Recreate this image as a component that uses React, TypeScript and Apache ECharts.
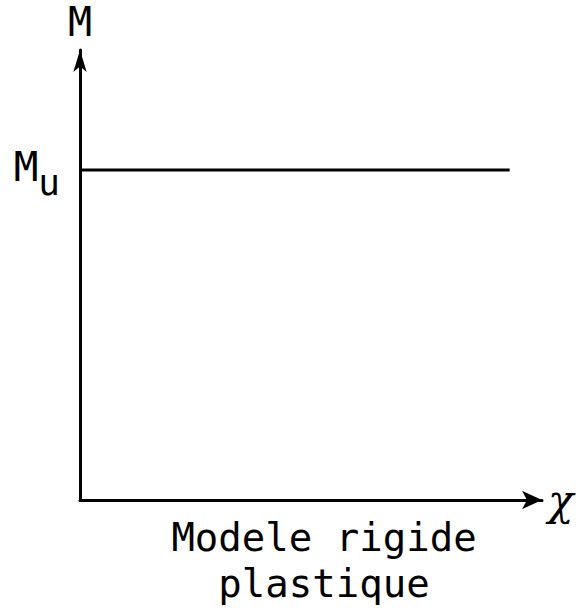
import React, { useEffect, useRef } from "react";
import * as echarts from "echarts";

const xRange = [0, 10];
const yRange = [0, 15];
const muValue = 11;
const plateauX = [0, 9.3];
const axisNames = { x: "χ", y: "M" };
const muLabel = ["M", "u"];
const captionLines = ["Modele rigide", "plastique"];

export default function App() {
  const ref = useRef<HTMLDivElement>(null);
  useEffect(() => {
    const chart = echarts.init(ref.current!, null, { renderer: "svg" });
    const font = "'DejaVu Sans Mono', monospace";
    chart.setOption({
      animation: false,
      backgroundColor: "#ffffff",
      grid: { left: 80, right: 43, top: 50, bottom: 113, containLabel: false },
      xAxis: {
        type: "value",
        min: xRange[0],
        max: xRange[1],
        name: axisNames.x,
        nameLocation: "end",
        nameGap: 6,
        nameTextStyle: { fontFamily: "'DejaVu Serif', serif", fontStyle: "italic", fontSize: 42, color: "#000", verticalAlign: "middle", padding: [0, 0, 10, 0] },
        axisLine: { show: true, symbol: ["none", "arrow"], symbolSize: [14, 20], lineStyle: { color: "#000", width: 3 } },
        axisTick: { show: false },
        axisLabel: { show: false },
        splitLine: { show: false },
      },
      yAxis: {
        type: "value",
        min: yRange[0],
        max: yRange[1],
        name: axisNames.y,
        nameLocation: "end",
        nameGap: 8,
        nameTextStyle: { fontFamily: font, fontSize: 40, color: "#000", align: "center", padding: [0, 0, 0, 0] },
        axisLine: { show: true, symbol: ["none", "arrow"], symbolSize: [10, 22], lineStyle: { color: "#000", width: 3 } },
        axisTick: { show: false },
        splitLine: { show: false },
        axisLabel: {
          show: true,
          customValues: [muValue],
          margin: 20,
          formatter: () => `{m|${muLabel[0]}}{u|${muLabel[1]}}`,
          rich: {
            m: { fontFamily: font, fontSize: 41, color: "#000", padding: [0, 0, 6, 0] },
            u: { fontFamily: font, fontSize: 36, color: "#000", padding: [24, 0, 0, 0] },
          },
        },
      },
      series: [
        {
          type: "line",
          data: plateauX.map((x) => [x, muValue]),
          symbol: "none",
          lineStyle: { color: "#000", width: 3 },
        },
      ],
      graphic: [
        {
          type: "text",
          x: 324,
          y: 514,
          style: {
            text: captionLines.join("\n"),
            font: `39px ${font}`,
            fill: "#000",
            align: "center",
            verticalAlign: "top",
            lineHeight: 46,
          },
        },
      ],
    });
    return () => chart.dispose();
  }, []);
  return <div ref={ref} style={{ width: 585, height: 613, position: "absolute", left: 0, top: 0 }} />;
}
